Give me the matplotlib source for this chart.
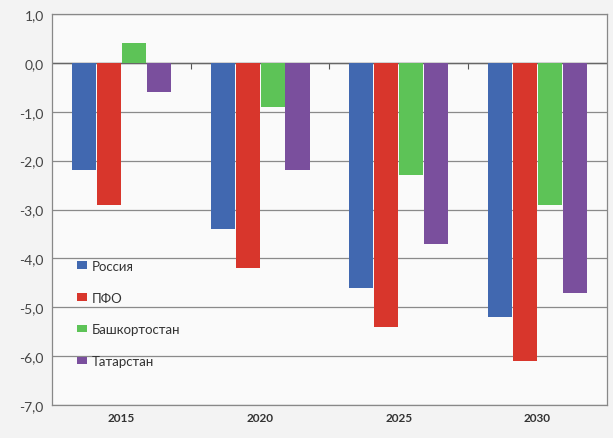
import numpy as np
import matplotlib
matplotlib.use('Agg')
import matplotlib.pyplot as plt
from matplotlib.ticker import FuncFormatter

plt.rcParams['font.family'] = ['Lato', 'DejaVu Sans']

# ДАННЫЕ
years = ['2015', '2020', '2025', '2030']
russia = [-2.2, -3.4, -4.6, -5.2]
pfo = [-2.9, -4.2, -5.4, -6.1]
bashk = [0.4, -0.9, -2.3, -2.9]
tatar = [-0.6, -2.2, -3.7, -4.7]
series_names = ['Россия', 'ПФО', 'Башкортостан', 'Татарстан']
colors = ['#4168B0', '#D8362C', '#5DC357', '#7A4F9D']

fig = plt.figure(figsize=(6.13, 4.39), dpi=100, facecolor='#f3f3f3')
ax = fig.add_axes([0.085, 0.075, 0.905, 0.891])
ax.set_facecolor('#fafafa')

x = np.arange(len(years))
w = 0.18
data = [russia, pfo, bashk, tatar]
for i, (vals, name, c) in enumerate(zip(data, series_names, colors)):
    ax.bar(x + (i - 1.5) * w, vals, w * 0.97, color=c, label=name, zorder=3)

ax.set_xlim(-0.5, len(years) - 0.5)
ax.set_ylim(-7, 1)
ax.set_yticks(np.arange(-7, 1.5, 1))
ax.yaxis.set_major_formatter(FuncFormatter(lambda v, p: ('%.1f' % v).replace('.', ',')))
ax.grid(axis='y', color='#8a8a8a', linewidth=0.9, zorder=0)
ax.axhline(0, color='#666666', linewidth=1.0, zorder=2)

ax.set_xticks(x)
ax.set_xticklabels(years, fontweight='bold', fontsize=8.5, color='#333333')
ax.tick_params(axis='x', length=0, pad=5)
ax.tick_params(axis='y', length=0, labelsize=10, labelcolor='#444444', pad=6)

for s in ax.spines.values():
    s.set_color('#888888')
    s.set_linewidth(0.9)

# засечки между категориями на нулевой линии
sec = ax.secondary_xaxis(7 / 8)
sec.set_xticks(x[:-1] + 0.5)
sec.set_xticklabels([])
sec.tick_params(direction='in', length=4, color='#555555')
sec.spines['bottom'].set_visible(False)
sec.spines['top'].set_visible(False)

leg = ax.legend(loc='upper left', bbox_to_anchor=(0.035, 0.385), frameon=False,
                fontsize=9.5, labelspacing=1.5, handlelength=0.75, handleheight=0.5,
                handletextpad=0.35, borderaxespad=0)
for t in leg.get_texts():
    t.set_color('#333333')

fig.savefig('out.png', dpi=100, facecolor=fig.get_facecolor())
